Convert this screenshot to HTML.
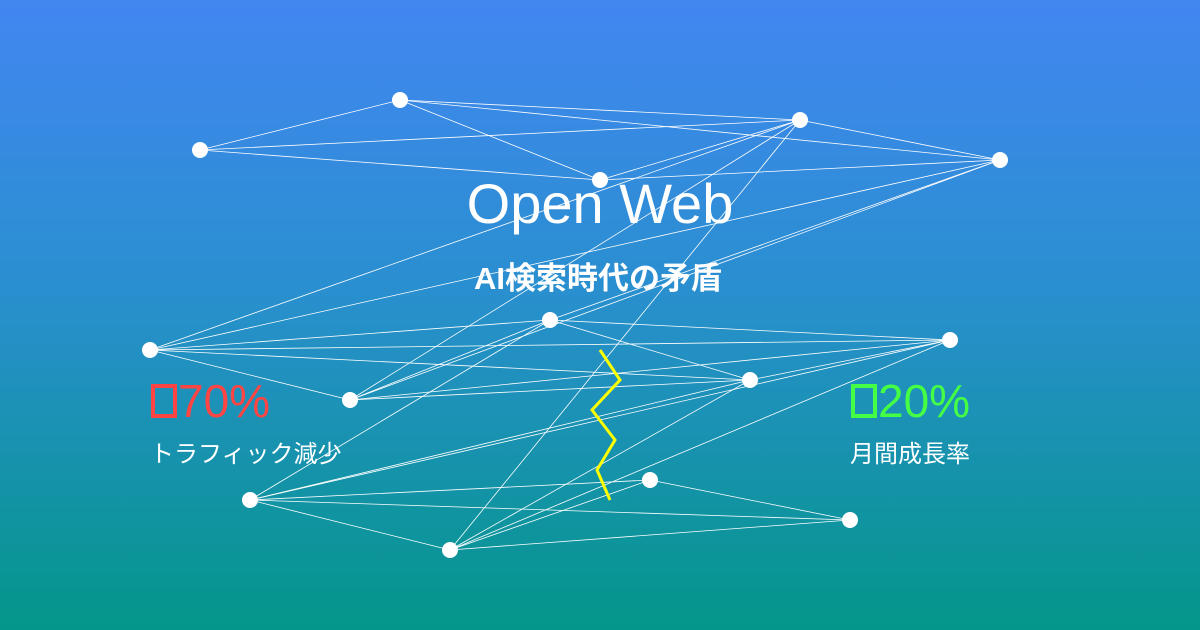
<!DOCTYPE html>
<html><head><meta charset="utf-8"><style>
html,body{margin:0;padding:0}
body{width:1200px;height:630px;overflow:hidden;background:linear-gradient(180deg,#4286f1 0%,#2a8fd0 45%,#04968a 100%);font-family:"Liberation Sans","Noto Sans CJK JP",sans-serif;}
svg{position:absolute;left:0;top:0}
</style></head><body>
<svg width="1200" height="630" viewBox="0 0 1200 630">
<g stroke="#fff" stroke-width="0.8" fill="none">
<line x1="400" y1="100" x2="200" y2="150"/><line x1="400" y1="100" x2="800" y2="120"/>
<line x1="400" y1="100" x2="1000" y2="160"/><line x1="400" y1="100" x2="600" y2="180"/>
<line x1="200" y1="150" x2="800" y2="120"/><line x1="200" y1="150" x2="600" y2="180"/>
<line x1="800" y1="120" x2="1000" y2="160"/><line x1="800" y1="120" x2="600" y2="180"/>
<line x1="800" y1="120" x2="150" y2="350"/><line x1="800" y1="120" x2="350" y2="400"/>
<line x1="800" y1="120" x2="450" y2="550"/>
<line x1="1000" y1="160" x2="600" y2="180"/><line x1="1000" y1="160" x2="150" y2="350"/>
<line x1="1000" y1="160" x2="550" y2="320"/><line x1="1000" y1="160" x2="350" y2="400"/>
<line x1="550" y1="320" x2="150" y2="350"/><line x1="550" y1="320" x2="350" y2="400"/>
<line x1="550" y1="320" x2="750" y2="380"/><line x1="550" y1="320" x2="950" y2="340"/>
<line x1="550" y1="320" x2="250" y2="500"/>
<line x1="150" y1="350" x2="350" y2="400"/><line x1="150" y1="350" x2="750" y2="380"/>
<line x1="150" y1="350" x2="950" y2="340"/>
<line x1="950" y1="340" x2="350" y2="400"/><line x1="950" y1="340" x2="750" y2="380"/>
<line x1="950" y1="340" x2="250" y2="500"/><line x1="950" y1="340" x2="450" y2="550"/>
<line x1="750" y1="380" x2="350" y2="400"/><line x1="750" y1="380" x2="250" y2="500"/>
<line x1="750" y1="380" x2="450" y2="550"/>
<line x1="250" y1="500" x2="650" y2="480"/><line x1="250" y1="500" x2="850" y2="520"/>
<line x1="250" y1="500" x2="450" y2="550"/>
<line x1="650" y1="480" x2="850" y2="520"/><line x1="650" y1="480" x2="450" y2="550"/>
<line x1="450" y1="550" x2="850" y2="520"/>
</g>
<g fill="#fff">
<circle cx="400" cy="100" r="8"/><circle cx="200" cy="150" r="8"/><circle cx="800" cy="120" r="8"/>
<circle cx="1000" cy="160" r="8"/><circle cx="600" cy="180" r="8"/><circle cx="550" cy="320" r="8"/>
<circle cx="150" cy="350" r="8"/><circle cx="950" cy="340" r="8"/><circle cx="350" cy="400" r="8"/>
<circle cx="750" cy="380" r="8"/><circle cx="250" cy="500" r="8"/><circle cx="650" cy="480" r="8"/>
<circle cx="850" cy="520" r="8"/><circle cx="450" cy="550" r="8"/>
</g>
<polyline points="600,350 620,380 592,410 615,440 597,470 610,500" stroke="#ffff00" stroke-width="3" fill="none"/>
<text x="600" y="223" text-anchor="middle" fill="#fff" font-size="56" font-family="Liberation Sans, sans-serif">Open Web</text>
<text x="598" y="289" text-anchor="middle" fill="#fff" font-size="31" font-weight="bold" font-family="Liberation Sans, Noto Sans CJK JP, sans-serif">AI検索時代の矛盾</text>
<rect x="153" y="386" width="22" height="30" fill="none" stroke="#ff4444" stroke-width="4"/>
<text x="178" y="417" fill="#ff4444" font-size="46" font-family="Liberation Sans, sans-serif">70%</text>
<text x="150" y="462" fill="#fff" font-size="24" font-family="Liberation Sans, Noto Sans CJK JP, sans-serif">トラフィック減少</text>
<rect x="853" y="386" width="22" height="30" fill="none" stroke="#44ff44" stroke-width="4"/>
<text x="878" y="417" fill="#44ff44" font-size="46" font-family="Liberation Sans, sans-serif">20%</text>
<text x="850" y="462" fill="#fff" font-size="24" font-family="Liberation Sans, Noto Sans CJK JP, sans-serif">月間成長率</text>
</svg>
</body></html>
